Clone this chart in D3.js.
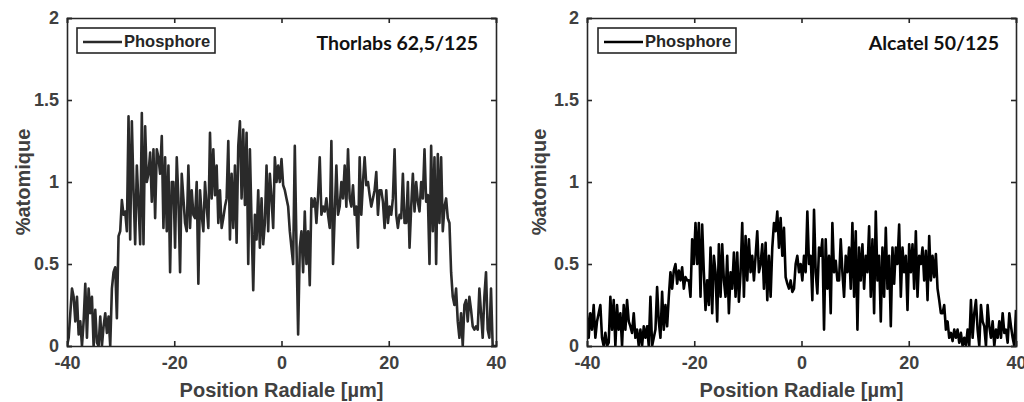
<!DOCTYPE html>
<html>
<head>
<meta charset="utf-8">
<script src="https://cdn.jsdelivr.net/npm/d3@7"></script>
<style>
  html, body { margin: 0; padding: 0; background: #fff; }
  svg { display: block; }
</style>
</head>
<body>
<svg id="chart" width="1024" height="402"></svg>
<script>
// ---- data ----
const xDomain = [-40, 40];
const yDomain = [0, 2];
const xTicks = [-40, -20, 0, 20, 40];
const yTicks = [0, 0.5, 1, 1.5, 2];
const seriesName = "Phosphore";
const xLabel = "Position Radiale [µm]";
const yLabel = "%atomique";
const titles = ["Thorlabs 62,5/125", "Alcatel 50/125"];

// Thorlabs 62,5/125 – phosphore, sampled uniformly from -40 to 40 µm
const thorlabs = [
  0.0,0.05,0.2,0.35,0.3,0.15,0.3,0.07,0.15,0.0,0.15,0.38,0.05,0.35,0.2,0.3,0.0,0.22,0.02,0.0,
  0.18,0.0,0.12,0.2,0.08,0.18,0.0,
  0.35,0.45,0.48,0.17,0.67,0.7,0.89,0.8,0.82,0.7,1.4,0.65,1.37,0.95,0.62,1.1,0.87,0.62,1.42,0.62,
  1.34,1.0,1.05,1.18,0.88,1.2,0.78,1.2,1.15,1.05,1.28,0.72,1.15,0.7,1.1,0.45,1.0,1.0,0.6,1.15,
  0.9,0.45,1.05,0.9,0.75,0.7,1.1,0.72,0.95,0.8,0.78,1.0,0.38,0.95,0.8,0.7,1.0,0.85,0.72,1.3,
  0.9,1.2,0.92,1.1,0.75,0.95,0.72,0.78,0.85,0.9,1.25,0.65,1.05,0.72,1.1,0.63,1.22,1.37,0.9,1.32,
  0.86,1.3,0.5,1.2,0.75,0.34,0.8,0.65,0.95,0.6,0.9,0.62,0.75,1.1,0.7,1.05,0.9,0.72,1.15,1.0,
  1.1,1.0,1.14,0.98,0.95,0.9,0.85,0.7,0.6,0.5,1.22,0.62,0.07,0.6,0.7,0.45,0.82,0.5,0.7,0.37,
  0.9,0.85,0.9,0.75,0.92,1.15,0.8,0.85,0.82,0.9,0.8,0.72,1.25,0.5,0.8,1.1,0.8,0.85,1.0,0.9,
  1.1,0.85,1.2,0.9,0.85,0.98,0.8,0.85,0.6,1.15,0.8,1.0,1.15,0.98,1.0,0.92,0.85,0.9,0.95,1.06,
  0.8,0.95,0.95,0.88,0.72,0.95,0.75,0.85,0.8,0.9,1.2,0.8,0.72,0.8,0.78,1.05,0.75,0.75,1.0,0.6,
  0.85,1.05,0.82,1.0,0.88,0.82,1.0,0.9,1.2,0.88,0.92,0.5,1.22,0.7,1.15,0.5,1.17,0.75,1.15,0.7,
  0.85,0.9,0.78,0.75,0.45,0.3,0.25,0.35,0.15,0.05,0.2,0.0,0.25,0.28,0.15,0.3,0.22,0.12,0.1,0.12,
  0.1,0.35,0.2,0.05,0.3,0.45,0.1,0.05,0.35,0.0,0.0,0.0
];

// Alcatel 50/125 – phosphore, sampled uniformly from -40 to 40 µm
const alcatel = [
  0.2,0.05,0.2,0.1,0.25,0.05,0.15,0.2,0.25,0.05,0.0,0.08,0.0,0.02,0.3,0.1,0.28,0.0,0.25,0.1,
  0.2,0.0,0.25,0.1,0.28,0.15,0.12,0.08,0.2,0.05,0.1,0.0,0.1,0.0,0.12,0.05,0.12,0.0,0.3,0.0,
  0.05,0.1,0.36,0.15,0.05,0.33,0.1,0.25,0.12,0.3,0.45,0.35,0.46,0.5,0.38,0.46,0.4,0.48,0.35,0.42,
  0.4,0.4,0.3,0.65,0.5,0.75,0.5,0.75,0.3,0.74,0.45,0.22,0.4,0.25,0.6,0.2,0.55,0.45,0.15,0.62,
  0.3,0.62,0.4,0.3,0.55,0.2,0.45,0.35,0.57,0.3,0.57,0.27,0.45,0.75,0.3,0.67,0.4,0.65,0.45,0.55,
  0.4,0.55,0.7,0.45,0.5,0.62,0.35,0.63,0.28,0.55,0.3,0.6,0.75,0.7,0.82,0.6,0.78,0.55,0.72,0.42,
  0.38,0.35,0.4,0.33,0.35,0.5,0.55,0.45,0.5,0.4,0.55,0.45,0.82,0.5,0.55,0.28,0.83,0.45,0.32,0.6,
  0.55,0.65,0.1,0.65,0.35,0.55,0.2,0.75,0.45,0.52,0.4,0.4,0.65,0.45,0.3,0.55,0.45,0.6,0.35,0.75,
  0.3,0.7,0.1,0.6,0.4,0.62,0.35,0.55,0.45,0.73,0.3,0.65,0.2,0.82,0.4,0.55,0.15,0.6,0.3,0.72,
  0.35,0.55,0.12,0.6,0.38,0.6,0.5,0.74,0.3,0.6,0.45,0.55,0.22,0.62,0.45,0.62,0.35,0.7,0.3,0.55,
  0.5,0.6,0.4,0.58,0.28,0.67,0.4,0.55,0.42,0.56,0.35,0.28,0.2,0.2,0.25,0.1,0.15,0.05,0.08,0.03,
  0.1,0.05,0.1,0.02,0.08,0.0,0.05,0.0,0.1,0.0,0.28,0.05,0.2,0.28,0.1,0.0,0.25,0.15,0.12,0.0,
  0.25,0.12,0.05,0.15,0.0,0.1,0.05,0.15,0.05,0.2,0.08,0.1,0.02,0.2,0.12,0.05,0.0,0.22
];

// ---- drawing ----
const svg = d3.select("#chart");
const FONT = "'Liberation Sans', Arial, sans-serif";
const TITLE_FONT = "Lato, 'Open Sans', sans-serif";
const AX = "#262626";
const TXT = "#404040";

const panels = [
  { left: 67,  right: 496, values: thorlabs, color: "#2a2a2a", title: titles[0],
    legend: { x: 77, y: 28, w: 138 }, titleX: 478, ylabX: 23 },
  { left: 587, right: 1016, values: alcatel, color: "#000000", title: titles[1],
    legend: { x: 598, y: 28, w: 138 }, titleX: 999, ylabX: 539 }
];
const plotTop = 18, plotBottom = 346;

panels.forEach(p => {
  const x = d3.scaleLinear().domain(xDomain).range([p.left, p.right]);
  const y = d3.scaleLinear().domain(yDomain).range([plotBottom, plotTop]);
  const n = p.values.length;
  const step = (xDomain[1] - xDomain[0]) / (n - 1);
  const pts = p.values.map((v, i) => [xDomain[0] + i * step, v]);

  const g = svg.append("g");

  const cid = "clip" + p.left;
  svg.append("clipPath").attr("id", cid).append("rect")
    .attr("x", p.left).attr("y", plotTop - 1).attr("width", p.right - p.left).attr("height", plotBottom - plotTop + 1);

  g.append("path")
    .datum(pts)
    .attr("clip-path", `url(#${cid})`)
    .attr("fill", "none")
    .attr("stroke", p.color)
    .attr("stroke-width", 2.6)
    .attr("stroke-linejoin", "round")
    .attr("d", d3.line().x(d => x(d[0])).y(d => y(d[1])));

  const tl = 5;
  const bAx = g.append("g").attr("transform", `translate(0,${plotBottom})`)
    .call(d3.axisBottom(x).tickValues(xTicks).tickSize(-tl).tickPadding(10).tickFormat(d => String(d)));
  const tAx = g.append("g").attr("transform", `translate(0,${plotTop})`)
    .call(d3.axisTop(x).tickValues(xTicks).tickSize(-tl).tickFormat(""));
  const lAx = g.append("g").attr("transform", `translate(${p.left},0)`)
    .call(d3.axisLeft(y).tickValues(yTicks).tickSize(-tl).tickPadding(8).tickFormat(d => String(d)));
  const rAx = g.append("g").attr("transform", `translate(${p.right},0)`)
    .call(d3.axisRight(y).tickValues(yTicks).tickSize(-tl).tickFormat(""));

  [bAx, tAx, lAx, rAx].forEach(a => {
    a.select(".domain").attr("stroke", AX).attr("stroke-width", 1.6);
    a.selectAll(".tick line").attr("stroke", AX).attr("stroke-width", 1.6);
    a.selectAll("text").attr("fill", TXT).attr("font-family", FONT)
      .attr("font-weight", "bold").attr("font-size", 18);
  });

  g.append("text")
    .attr("x", (p.left + p.right) / 2).attr("y", 397)
    .attr("text-anchor", "middle")
    .attr("font-family", FONT).attr("font-weight", "bold").attr("font-size", 20)
    .attr("fill", TXT).text(xLabel);
  g.append("text")
    .attr("transform", `translate(${p.ylabX + 7},${(plotTop + plotBottom) / 2}) rotate(-90)`)
    .attr("text-anchor", "middle")
    .attr("font-family", FONT).attr("font-weight", "bold").attr("font-size", 20)
    .attr("fill", TXT).text(yLabel);

  const L = p.legend;
  g.append("rect").attr("x", L.x).attr("y", L.y).attr("width", L.w).attr("height", 25)
    .attr("fill", "#fff").attr("stroke", AX).attr("stroke-width", 1.6);
  g.append("line").attr("x1", L.x + 6).attr("x2", L.x + 45)
    .attr("y1", L.y + 14).attr("y2", L.y + 14)
    .attr("stroke", p.color).attr("stroke-width", 2.4);
  g.append("text").attr("x", L.x + 47).attr("y", L.y + 19)
    .attr("font-family", FONT).attr("font-weight", "bold").attr("font-size", 16.5)
    .attr("fill", "#262626").text(seriesName);

  g.append("text").attr("x", p.titleX).attr("y", 50)
    .attr("text-anchor", "end")
    .attr("font-family", TITLE_FONT).attr("font-weight", "bold").attr("font-size", 19.5)
    .attr("fill", "#111").text(p.title);
});
</script>
</body>
</html>
